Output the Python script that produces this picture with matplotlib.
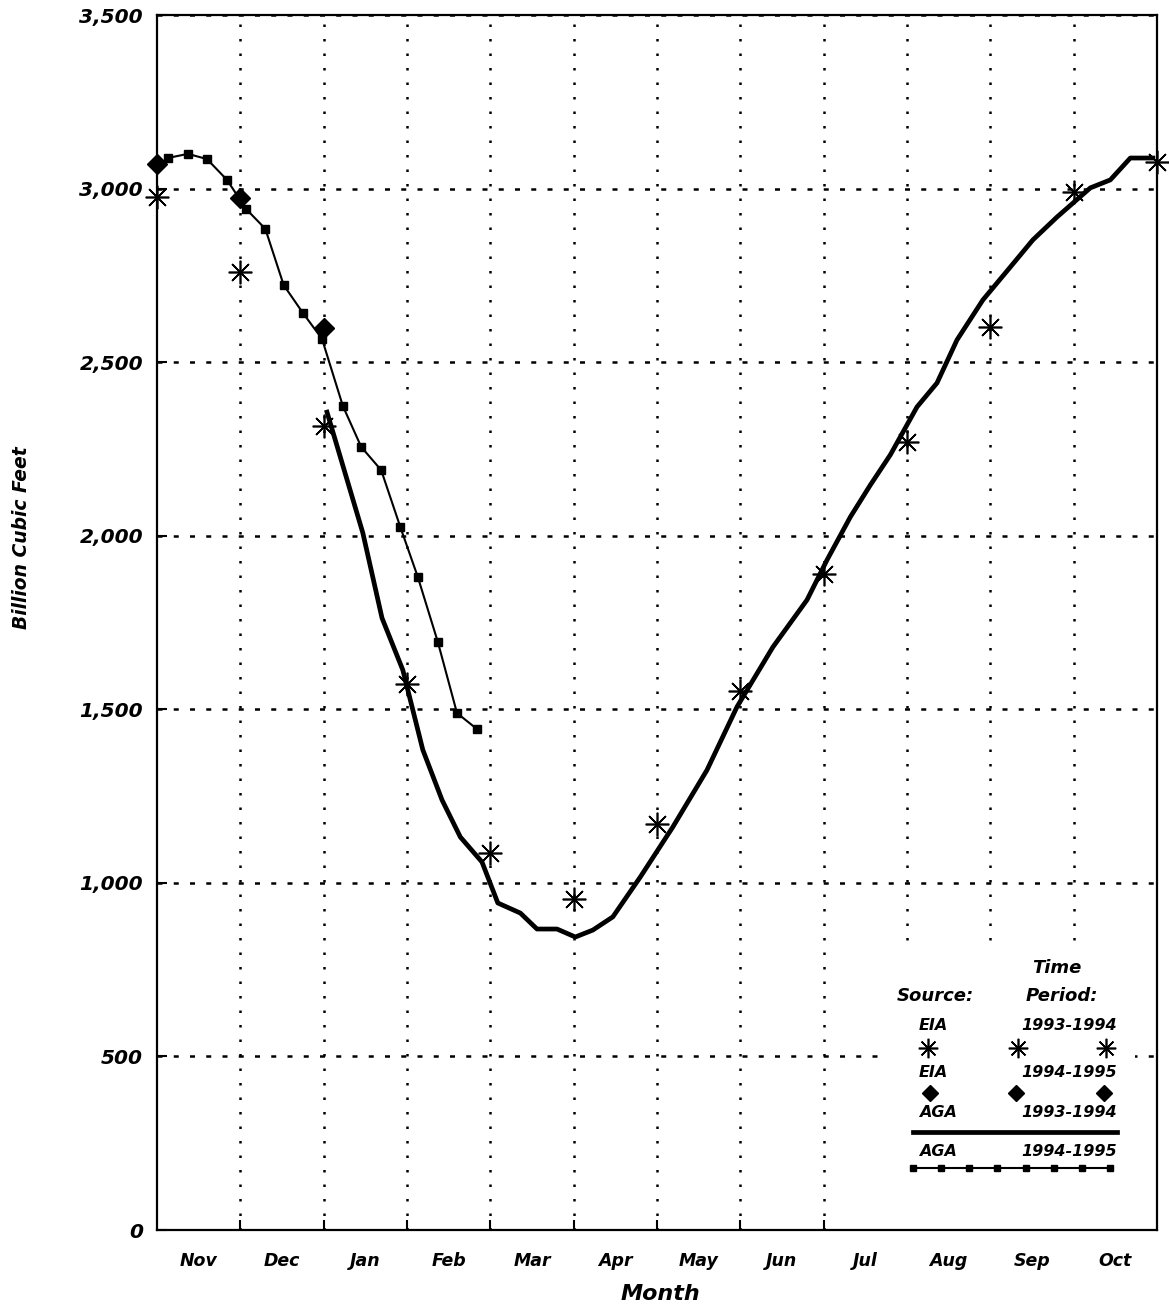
import matplotlib
matplotlib.use("Agg")
import matplotlib.pyplot as plt
from matplotlib.patches import Rectangle
from matplotlib.ticker import FixedLocator, FuncFormatter

plt.rcParams['font.family'] = ['DejaVu Sans']
plt.rcParams['font.weight'] = 'bold'
plt.rcParams['font.style'] = 'italic'
plt.rcParams['axes.labelweight'] = 'bold'

# months run Nov..Oct, x = 0 is the start of November
months = ['Nov', 'Dec', 'Jan', 'Feb', 'Mar', 'Apr',
          'May', 'Jun', 'Jul', 'Aug', 'Sep', 'Oct']

# EIA end-of-month storage
eia_9394_x = [0, 1, 2, 3, 4, 5, 6, 7, 8, 9, 10, 11, 12]
eia_9394_y = [2975, 2760, 2316, 1573, 1086, 953, 1170, 1553, 1890, 2270, 2601, 2990, 3077]

eia_9495_x = [0, 1, 2]
eia_9495_y = [3071, 2973, 2598]

# AGA weekly storage
aga_9394_x = [2.04, 2.47, 2.70, 2.95, 3.19, 3.42, 3.64, 3.90, 4.09, 4.36, 4.56, 4.80,
              5.02, 5.23, 5.47, 5.80, 6.19, 6.60, 6.96, 7.39, 7.80, 8.04, 8.32, 8.56,
              8.80, 9.12, 9.36, 9.60, 9.91, 10.24, 10.51, 10.80, 11.20, 11.44, 11.68, 11.95]
aga_9394_y = [2356, 2008, 1763, 1613, 1383, 1239, 1132, 1060, 942, 913, 867, 867,
              844, 864, 902, 1017, 1161, 1325, 1507, 1679, 1815, 1930, 2054, 2146,
              2233, 2371, 2440, 2564, 2679, 2774, 2852, 2918, 3002, 3025, 3088, 3088]

aga_9495_x = [0.13, 0.37, 0.60, 0.84, 1.07, 1.30, 1.52, 1.75, 1.98, 2.23, 2.45, 2.69,
              2.92, 3.13, 3.37, 3.60, 3.84]
aga_9495_y = [3088, 3100, 3085, 3025, 2941, 2884, 2722, 2642, 2567, 2374, 2256, 2189,
              2025, 1881, 1694, 1489, 1443]

yticks = [0, 500, 1000, 1500, 2000, 2500, 3000, 3500]

asterisk = (8, 2, 0)

fig = plt.figure(figsize=(11.69, 13.10), dpi=100)
ax = fig.add_axes([157 / 1169, 80 / 1310, 1000 / 1169, 1215 / 1310])

ax.plot(aga_9394_x, aga_9394_y, color='black', lw=3.4, zorder=3)
ax.plot(aga_9495_x, aga_9495_y, color='black', lw=1.5, marker='s', ms=5.5, zorder=3)
ax.plot(eia_9394_x, eia_9394_y, ls='none', marker=asterisk, ms=17, mew=1.2,
        color='black', zorder=4, clip_on=False)
ax.plot(eia_9495_x, eia_9495_y, ls='none', marker='D', ms=10, color='black',
        zorder=4, clip_on=False)

ax.set_xlim(0, 12)
ax.set_ylim(0, 3500)

# month boundaries get ticks + gridlines, month names sit in between
ax.xaxis.set_major_locator(FixedLocator(range(1, 12)))
ax.xaxis.set_major_formatter(FuncFormatter(lambda v, p: ''))
ax.xaxis.set_minor_locator(FixedLocator([m + 0.5 for m in range(12)]))
ax.xaxis.set_minor_formatter(FuncFormatter(lambda v, p: months[int(v)]))
ax.tick_params(axis='x', which='major', direction='in', length=7, width=1.5)
ax.tick_params(axis='x', which='minor', length=0, pad=16, labelsize=12.5)

ax.set_yticks(yticks)
ax.yaxis.set_major_formatter(FuncFormatter(lambda v, p: f'{int(v):,}'))
ax.tick_params(axis='y', direction='in', length=7, width=1.5, pad=10, labelsize=14.5)

ax.set_axisbelow(True)
ax.grid(axis='x', color='black', lw=1.8, linestyle=(0, (1, 4.8)))
ax.grid(axis='y', color='black', lw=1.8, linestyle=(0, (2, 4.5)))
for s in ax.spines.values():
    s.set_linewidth(1.6)

ax.set_xlabel('Month', fontsize=16, fontweight='bold', va='center')
ax.xaxis.set_label_coords(0.503, -0.0527)
ax.set_ylabel('Billion Cubic Feet', fontsize=13.5, fontweight='bold', va='center')
ax.yaxis.set_label_coords(-0.135, 0.570)

# legend panel
tr = ax.transAxes
ax.add_patch(Rectangle((0.721, 0.0), 0.257, 0.2346, transform=tr, facecolor='white',
                       edgecolor='none', zorder=1.5))
ax.text(0.900, 0.2156, 'Time', transform=tr, ha='center', va='center', fontsize=13)
ax.text(0.778, 0.1926, 'Source:', transform=tr, ha='center', va='center', fontsize=13)
ax.text(0.905, 0.1926, 'Period:', transform=tr, ha='center', va='center', fontsize=13)

rows = [('EIA', '1993-1994', 0.1687), ('EIA', '1994-1995', 0.130),
        ('AGA', '1993-1994', 0.0963), ('AGA', '1994-1995', 0.0642)]
for src, per, yy in rows:
    ax.text(0.762, yy, src, transform=tr, ha='left', va='center', fontsize=11.5)
    ax.text(0.960, yy, per, transform=tr, ha='right', va='center', fontsize=11.5)

ax.plot([0.771, 0.861, 0.949], [0.1498] * 3, transform=tr, ls='none', marker=asterisk,
        ms=14, mew=1.2, color='black', zorder=4)
ax.plot([0.773, 0.859, 0.947], [0.1128] * 3, transform=tr, ls='none', marker='D',
        ms=8.5, color='black', zorder=4)
ax.plot([0.756, 0.960], [0.0807] * 2, transform=tr, color='black', lw=3.4, zorder=4)
leg_sq = [0.756 + i * (0.953 - 0.756) / 7 for i in range(8)]
ax.plot(leg_sq, [0.051] * 8, transform=tr, color='black', lw=1.5, marker='s', ms=5,
        zorder=4)

fig.savefig('out.png', dpi=100)
